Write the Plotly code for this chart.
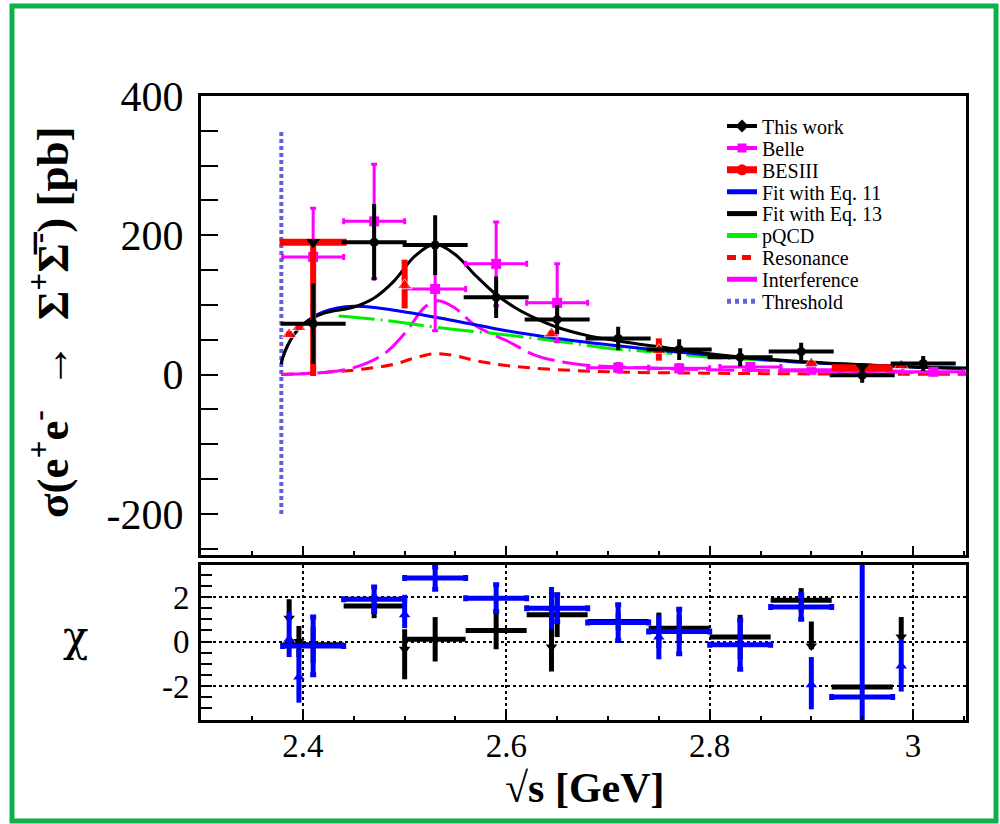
import plotly.graph_objects as go

FONT = "Liberation Serif"

# ---------------- main panel data ----------------
work_x = [2.41, 2.47, 2.53, 2.59, 2.65, 2.71, 2.77, 2.83, 2.89, 2.95, 3.01]
work_y = [73, 190, 186, 111, 79, 52, 36, 25, 33, -1, 16]
work_err = [55, 52, 40, 27, 18, 14, 12, 10, 10, 8, 8]
work_xerr = [0.03] * 11

belle_x = [2.41, 2.47, 2.53, 2.59, 2.65, 2.71, 2.77, 2.84, 2.90, 2.96, 3.02]
belle_y = [169, 220, 123, 159, 103, 10, 9, 11, 7, 5, 4]
belle_err = [70, 82, 60, 60, 56, 6, 5, 5, 4, 3, 3]
belle_xerr = [0.03] * 11

bes_x = [2.3864, 2.3960, 2.41, 2.50, 2.6444, 2.75, 2.90, 2.95, 2.9884]
bes_y = [58, 68, 190, 128, 59, 35, 16, 10, 13]
bes_err_plus = [4, 4, 0, 37, 4, 17, 3, 0, 3]
bes_err_minus = [4, 4, 192, 33, 4, 15, 3, 0, 3]
bes_xerr = [0, 0, 0.033, 0, 0, 0, 0, 0.03, 0]
bes_msize = [13, 13, 0, 13, 13, 13, 13, 0, 13]

down_x = [2.41, 2.95]
down_y = [190, 11]

fit11_x = [2.3787, 2.38, 2.39, 2.40, 2.42, 2.45, 2.50, 2.55, 2.60, 2.65, 2.70,
           2.75, 2.80, 2.85, 2.90, 2.95, 3.00, 3.06]
fit11_y = [15, 24, 55, 72, 90, 98, 90, 77, 63, 52, 43, 35, 28, 22, 17, 14, 11, 9]

fit13_x = [2.3787, 2.38, 2.39, 2.40, 2.42, 2.45, 2.47, 2.49, 2.51, 2.53, 2.55,
           2.57, 2.59, 2.61, 2.63, 2.65, 2.68, 2.72, 2.76, 2.80, 2.85, 2.90,
           2.95, 3.00, 3.06]
fit13_y = [15, 24, 55, 72, 88, 97, 110, 135, 170, 187, 172, 142, 115, 95, 80,
           68, 56, 46, 38, 30, 23, 18, 14, 11, 9]

pqcd_x = [2.435, 2.48, 2.53, 2.60, 2.65, 2.70, 2.75, 2.80, 2.85, 2.90, 2.95, 3.00, 3.06]
pqcd_y = [84, 78, 68, 57, 48, 38, 32, 25, 21, 17, 14, 11, 9]

res_x = [2.3787, 2.42, 2.46, 2.49, 2.51, 2.53, 2.55, 2.57, 2.60, 2.64, 2.70,
         2.80, 2.90, 3.06]
res_y = [0, 3, 8, 15, 24, 30, 27, 20, 13, 8, 4, 2, 1, 0.5]

int_x = [2.3787, 2.42, 2.45, 2.48, 2.50, 2.52, 2.533, 2.55, 2.57, 2.60, 2.63,
         2.67, 2.73, 2.80, 2.90, 3.06]
int_y = [0, 3, 10, 30, 59, 97, 106, 95, 70, 49, 27, 15, 10, 7, 5, 2]

thr_x = [2.3787, 2.3787]
thr_y = [-200, 350]

# ---------------- chi panel data ----------------
chi_bin_x = [2.41, 2.47, 2.53, 2.59, 2.65, 2.71, 2.77, 2.83, 2.89, 2.95]
chi_bin_xerr = [0.03] * 10
chi13_bin_y = [-0.15, 1.6, 0.1, 0.5, 1.2, 0.9, 0.6, 0.2, 1.85, -2.05]
chi13_bin_err = [0.8, 0.55, 1.0, 0.85, 1.0, 0.4, 0.6, 1.0, 0.55, 0.1]
chi11_bin_y = [-0.2, 1.9, 2.85, 1.95, 1.5, 0.85, 0.45, -0.15, 1.55, -2.5]
chi11_bin_err = [1.3, 0.55, 0.5, 0.6, 0.6, 0.8, 1.0, 1.1, 0.55, 10]

chi_pt_x = [2.3864, 2.3960, 2.50, 2.6444, 2.75, 2.90, 2.9884]
chi13_pt_y = [1.05, 0.0, -0.35, -0.25, 0.5, -0.2, 0.2]
chi13_pt_plus = [0.85, 0.7, 0.9, 1.35, 0.8, 1.1, 0.9]
chi13_pt_minus = [0.1, 0.7, 1.35, 1.1, 0.8, 0.15, 0.1]
chi11_pt_y = [0.1, -1.6, 1.2, 1.5, 0.2, -1.95, -1.1]
chi11_pt_plus = [1.25, 1.25, 0.9, 0.95, 1.0, 1.25, 1.2]
chi11_pt_minus = [0.8, 1.15, 0.6, 0.95, 1.0, 1.1, 1.15]

# ---------------- tick labels ----------------
x_tickvals = [2.4, 2.6, 2.8, 3.0]
x_ticktext = ["2.4", "2.6", "2.8", "3"]
y_tickvals = [-200, 0, 200, 400]
y_ticktext = ["-200", "0", "200", "400"]
chi_tickvals = [-2, 0, 2]
chi_ticktext = ["-2", "0", "2"]

# ---------------- figure ----------------
BLACK = "#000000"
MAG = "#ff00ff"
RED = "#ff0000"
BLUE = "#0000ff"
GREEN = "#00ee00"
THR = "#6060e0"

fig = go.Figure()

# curves
fig.add_trace(go.Scatter(x=thr_x, y=thr_y, mode="lines", showlegend=False,
                         line=dict(color=THR, width=4, dash="4px,3px")))
fig.add_trace(go.Scatter(x=res_x, y=res_y, mode="lines", showlegend=False,
                         line=dict(color=RED, width=3, dash="12px,8px", shape="spline")))
fig.add_trace(go.Scatter(x=int_x, y=int_y, mode="lines", showlegend=False,
                         line=dict(color=MAG, width=3, dash="28px,8px", shape="spline")))
fig.add_trace(go.Scatter(x=pqcd_x, y=pqcd_y, mode="lines", showlegend=False,
                         line=dict(color=GREEN, width=3, dash="36px,6px,2px,6px", shape="spline")))
fig.add_trace(go.Scatter(x=fit11_x, y=fit11_y, mode="lines", showlegend=False,
                         line=dict(color=BLUE, width=3, shape="spline")))
fig.add_trace(go.Scatter(x=fit13_x, y=fit13_y, mode="lines", showlegend=False,
                         line=dict(color=BLACK, width=3, shape="spline")))

# data points
fig.add_trace(go.Scatter(
    x=belle_x, y=belle_y, mode="markers", showlegend=False,
    marker=dict(symbol="square", size=10, color=MAG),
    error_y=dict(type="data", array=belle_err, color=MAG, thickness=3, width=3),
    error_x=dict(type="data", array=belle_xerr, color=MAG, thickness=3, width=3)))
fig.add_trace(go.Scatter(
    x=bes_x, y=bes_y, mode="markers", showlegend=False,
    marker=dict(symbol="triangle-up", size=bes_msize, color=RED),
    error_y=dict(type="data", symmetric=False, array=bes_err_plus,
                 arrayminus=bes_err_minus, color=RED, thickness=6, width=0),
    error_x=dict(type="data", array=bes_xerr, color=RED, thickness=7, width=0)))
fig.add_trace(go.Scatter(
    x=work_x, y=work_y, mode="markers", showlegend=False,
    marker=dict(symbol="circle", size=9, color=BLACK),
    error_y=dict(type="data", array=work_err, color=BLACK, thickness=4, width=2),
    error_x=dict(type="data", array=work_xerr, color=BLACK, thickness=4, width=2)))
fig.add_trace(go.Scatter(x=down_x, y=down_y, mode="markers", showlegend=False,
                         marker=dict(symbol="triangle-down", size=12, color=BLACK)))

# chi panel
chi_common = dict(xaxis="x2", yaxis="y2", mode="markers", showlegend=False)
fig.add_trace(go.Scatter(
    x=chi_pt_x, y=chi13_pt_y, **chi_common,
    marker=dict(symbol="triangle-down", size=10, color=BLACK),
    error_y=dict(type="data", symmetric=False, array=chi13_pt_plus,
                 arrayminus=chi13_pt_minus, color=BLACK, thickness=5, width=0)))
fig.add_trace(go.Scatter(
    x=chi_bin_x, y=chi13_bin_y, **chi_common,
    marker=dict(symbol="triangle-down", size=6, color=BLACK),
    error_y=dict(type="data", array=chi13_bin_err, color=BLACK, thickness=5, width=0),
    error_x=dict(type="data", array=chi_bin_xerr, color=BLACK, thickness=5, width=0)))
fig.add_trace(go.Scatter(
    x=chi_pt_x, y=chi11_pt_y, **chi_common,
    marker=dict(symbol="triangle-up", size=10, color=BLUE),
    error_y=dict(type="data", symmetric=False, array=chi11_pt_plus,
                 arrayminus=chi11_pt_minus, color=BLUE, thickness=5, width=0)))
fig.add_trace(go.Scatter(
    x=chi_bin_x, y=chi11_bin_y, **chi_common,
    marker=dict(symbol="triangle-up", size=6, color=BLUE),
    error_y=dict(type="data", array=chi11_bin_err, color=BLUE, thickness=5, width=3),
    error_x=dict(type="data", array=chi_bin_xerr, color=BLUE, thickness=5, width=3)))

# legend entries (legend-only dummy traces), each in its own legend box
legend_items = [
    ("This work", dict(mode="lines+markers", line=dict(color=BLACK, width=4),
                       marker=dict(symbol="diamond", size=10, color=BLACK))),
    ("Belle", dict(mode="lines+markers", line=dict(color=MAG, width=4),
                   marker=dict(symbol="square", size=9, color=MAG))),
    ("BESIII", dict(mode="lines+markers", line=dict(color=RED, width=7),
                    marker=dict(symbol="circle", size=11, color=RED))),
    ("Fit with Eq. 11", dict(mode="lines", line=dict(color=BLUE, width=5))),
    ("Fit with Eq. 13", dict(mode="lines", line=dict(color=BLACK, width=5))),
    ("pQCD", dict(mode="lines", line=dict(color=GREEN, width=5))),
    ("Resonance", dict(mode="lines", line=dict(color=RED, width=5, dash="9px,6px"))),
    ("Interference", dict(mode="lines", line=dict(color=MAG, width=5))),
    ("Threshold", dict(mode="lines", line=dict(color=THR, width=5, dash="4px,4px"))),
]
W, H = 1000, 824
legend_py0 = 126
legend_dy = 21.9
for i, (name, style) in enumerate(legend_items):
    key = "legend" if i == 0 else f"legend{i + 1}"
    fig.add_trace(go.Scatter(x=[None], y=[None], name=name, showlegend=True,
                             legend=key, **style))
    fig.update_layout(**{key: dict(
        x=0.722, y=1 - (legend_py0 + i * legend_dy) / H,
        xanchor="left", yanchor="middle", bgcolor="rgba(0,0,0,0)",
        borderwidth=0, itemwidth=30,
        font=dict(family=FONT, size=20, color="black"))})

XR = [2.2997, 3.0521]
axis_font = dict(family=FONT, size=42, color="black")
small_font = dict(family=FONT, size=33, color="black")

fig.update_layout(
    width=W, height=H,
    margin=dict(l=0, r=0, t=0, b=0, pad=0, autoexpand=False),
    paper_bgcolor="white", plot_bgcolor="white",
    font=dict(family=FONT, color="black"),
    xaxis=dict(domain=[0.201, 0.966], range=XR, showticklabels=False,
               automargin=False,
               showline=True, linewidth=3, linecolor="black", mirror=True,
               ticks="inside", tickvals=x_tickvals, ticklen=9, tickwidth=2,
               tickcolor="black", showgrid=False, zeroline=False, anchor="y",
               minor=dict(ticks="inside", dtick=0.05, tick0=2.4, ticklen=4,
                          tickwidth=2, tickcolor="black", showgrid=False)),
    yaxis=dict(domain=[1 - 555 / H, 1 - 96 / H], range=[-259, 400],
               automargin=False,
               showline=True, linewidth=3, linecolor="black", mirror=True,
               ticks="inside", tickvals=y_tickvals, ticktext=y_ticktext,
               ticklen=17, tickwidth=2,
               tickcolor="black", tickfont=axis_font, ticklabelstandoff=6,
               showgrid=False, zeroline=False, anchor="x",
               minor=dict(ticks="inside", dtick=50, tick0=0, ticklen=17,
                          tickwidth=2, tickcolor="black", showgrid=False)),
    xaxis2=dict(domain=[0.201, 0.966], range=XR, anchor="y2", automargin=False,
                showline=True, linewidth=3, linecolor="black", mirror=True,
                ticks="inside", tickvals=x_tickvals, ticktext=x_ticktext,
                ticklen=9, tickwidth=2,
                tickcolor="black", tickfont=small_font, ticklabelstandoff=-6,
                showgrid=True, gridcolor="black", gridwidth=2, griddash="dot",
                zeroline=False,
                minor=dict(ticks="inside", dtick=0.05, tick0=2.4, ticklen=4,
                           tickwidth=2, tickcolor="black", showgrid=False)),
    yaxis2=dict(domain=[1 - 720 / H, 1 - 565 / H], range=[-3.53, 3.44], anchor="x2",
                automargin=False,
                showline=True, linewidth=3, linecolor="black", mirror=True,
                ticks="inside", tickvals=chi_tickvals, ticktext=chi_ticktext,
                ticklen=11, tickwidth=2,
                tickcolor="black", tickfont=small_font, ticklabelstandoff=2,
                showgrid=True, gridcolor="black", gridwidth=2, griddash="dot",
                zeroline=False,
                minor=dict(ticks="inside", dtick=0.5, tick0=0, ticklen=11,
                           tickwidth=2, tickcolor="black", showgrid=False)),
    showlegend=True,
)

# axis titles
fig.add_annotation(
    text="<b>σ(e<sup>+</sup>e<sup>-</sup>  →  Σ<sup>+</sup>Σ\u0305<sup>-</sup>) [pb]</b>",
    xref="paper", yref="paper", x=49 / W, y=1 - 323 / H, showarrow=False,
    textangle=-90, font=dict(family=FONT, size=45, color="black"),
    xanchor="center", yanchor="middle")
fig.add_annotation(
    text="χ", xref="paper", yref="paper", x=75 / W, y=1 - 636 / H, showarrow=False,
    font=dict(family="DejaVu Serif", size=42, color="black"),
    xanchor="center", yanchor="middle")
fig.add_annotation(
    text="<b>√s [GeV]</b>", xref="paper", yref="paper", x=585 / W, y=1 - 788 / H,
    showarrow=False, font=dict(family=FONT, size=42, color="black"),
    xanchor="center", yanchor="middle")

# green outer frame
fig.add_shape(type="rect", xref="paper", yref="paper",
              x0=12 / W, x1=996 / W, y0=1 - 821 / H, y1=1 - 6 / H,
              line=dict(color="#0db14b", width=5), fillcolor="rgba(0,0,0,0)")

fig.write_html("out.html", config={"displayModeBar": False},
               post_script="document.body.style.margin='0px';")
